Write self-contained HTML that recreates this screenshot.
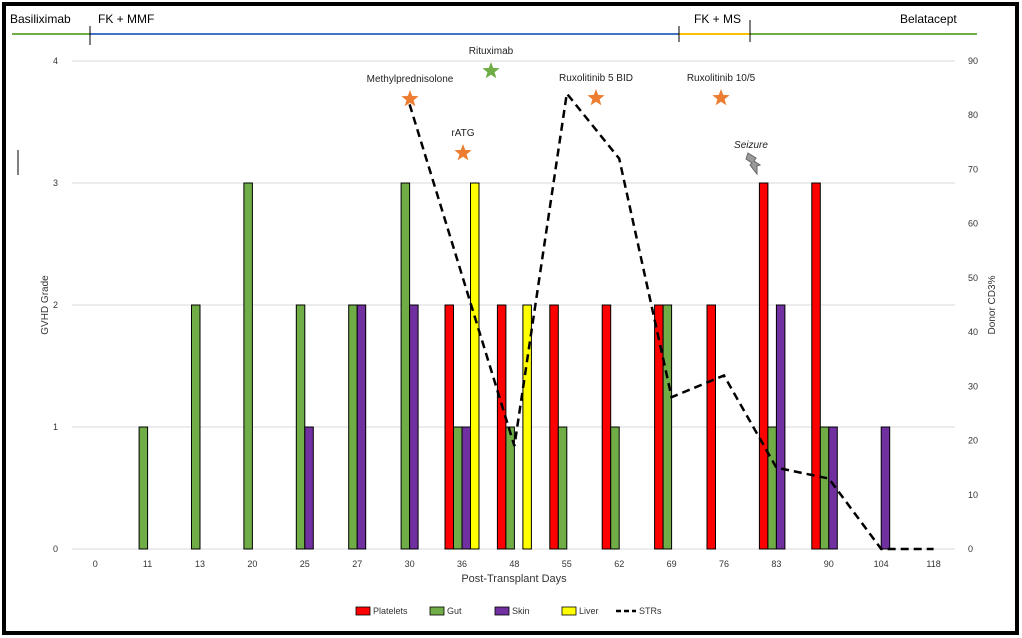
<!DOCTYPE html>
<html><head><meta charset="utf-8"><style>
body{margin:0;background:#fff;font-family:"Liberation Sans",sans-serif}
svg{display:block}
</style></head><body>
<svg id="c" width="1022" height="638" viewBox="0 0 1022 638" font-family="Liberation Sans, sans-serif">
<rect x="4" y="4" width="1013" height="629" fill="#fff" stroke="#000" stroke-width="4"/>
<g>
<line x1="12" y1="34" x2="90" y2="34" stroke="#70ad47" stroke-width="2"/>
<line x1="90" y1="34" x2="679" y2="34" stroke="#4472c4" stroke-width="2"/>
<line x1="679" y1="34" x2="750" y2="34" stroke="#ffc000" stroke-width="2"/>
<line x1="750" y1="34" x2="977" y2="34" stroke="#70ad47" stroke-width="2"/>
<line x1="90" y1="26" x2="90" y2="45" stroke="#000"/>
<line x1="679" y1="26" x2="679" y2="42" stroke="#000"/>
<line x1="750" y1="20" x2="750" y2="42" stroke="#000"/>
<text x="10" y="23" font-size="12">Basiliximab</text>
<text x="98" y="23" font-size="12">FK + MMF</text>
<text x="694" y="23" font-size="12">FK + MS</text>
<text x="900" y="23" font-size="12">Belatacept</text>
</g>
<line x1="18" y1="150" x2="18" y2="175" stroke="#000"/>
<g id="grid"></g><g id="bars"></g><g id="line"></g><g id="ann"></g>
<text transform="translate(48,305) rotate(-90)" text-anchor="middle" font-size="10" fill="#333">GVHD Grade</text>
<text transform="translate(995,305) rotate(-90)" text-anchor="middle" font-size="10" fill="#333">Donor CD3%</text>
<text x="514" y="582" text-anchor="middle" font-size="11" fill="#333">Post-Transplant Days</text>
<g id="legend" font-size="9" fill="#333"></g>
</svg>
<script>
const categories=["0","11","13","20","25","27","30","36","48","55","62","69","76","83","90","104","118"];
const platelets=[0,0,0,0,0,0,0,2,2,2,2,2,2,3,3,0,0];
const gut=[0,1,2,3,2,2,3,1,1,1,1,2,0,1,1,0,0];
const skin=[0,0,0,0,1,2,2,1,0,0,0,0,0,2,1,1,0];
const liver=[0,0,0,0,0,0,0,3,2,0,0,0,0,0,0,0,0];
const strs=[null,null,null,null,null,null,82,null,19,84,72,28,32,15,13,0,0];
const yTicks=[0,1,2,3,4];
const y2Ticks=[0,10,20,30,40,50,60,70,80,90];
const NS="http://www.w3.org/2000/svg";
const X0=69,STEP=52.4,YB=549,YT=61;
const xc=i=>X0+STEP*(i+0.5);
const y=v=>YB-(YB-YT)*v/4;
const y2=v=>YB-(YB-YT)*v/90;
function mk(tag,at,parent){const e=document.createElementNS(NS,tag);for(const k in at)e.setAttribute(k,at[k]);parent.appendChild(e);return e;}
const grid=document.getElementById('grid');
yTicks.forEach(t=>{
 const l=mk('line',{x1:72,x2:955,y1:y(t),y2:y(t),stroke:'#d9d9d9'},grid);
 
 
 const tx=mk('text',{x:58,y:y(t)+3,'text-anchor':'end','font-size':9,fill:'#333'},grid);
 tx.textContent=t;
 
 
});
y2Ticks.forEach(t=>{
 const tx=mk('text',{x:968,y:y2(t)+3,'font-size':9,fill:'#333'},grid);
 tx.textContent=t;
 
 
});
categories.forEach((c,i)=>{
 const tx=mk('text',{x:xc(i),y:567,'text-anchor':'middle','font-size':9,fill:'#333'},grid);
 tx.textContent=c;
 
 
});
const series=[[platelets,'#ff0000','platelets'],[gut,'#70ad47','gut'],[skin,'#7030a0','skin'],[liver,'#ffff00','liver']];
const BW=8.5,bars=document.getElementById('bars');
categories.forEach((c,i)=>{
 series.forEach((s,j)=>{
  const v=s[0][i]; if(!v) return;
  const r=mk('rect',{x:xc(i)-2*BW+j*BW,y:y(v),width:BW,height:y(0)-y(v),fill:s[1],stroke:'#000','stroke-width':1},bars);
  
  
 });
});
let pts=[];strs.forEach((v,i)=>{if(v!==null)pts.push(xc(i)+','+y2(v));});
const pl=mk('polyline',{points:pts.join(' '),fill:'none',stroke:'#000','stroke-width':2.5,'stroke-dasharray':'8,5'},document.getElementById('line'));


const ann=document.getElementById('ann');
function star(cx,cy,col,name,label){
 let p=[];for(let k=0;k<10;k++){const r=k%2?3.8:9,a=-Math.PI/2+k*Math.PI/5;p.push((cx+r*Math.cos(a)).toFixed(1)+','+(cy+r*Math.sin(a)).toFixed(1));}
 const s=mk('polygon',{points:p.join(' '),fill:col},ann);
 
 
 const t=mk('text',{x:cx,y:cy-17,'text-anchor':'middle','font-size':10,fill:'#222'},ann);
 t.textContent=label;
 
 
}
star(410,99,'#ed7d31','methylprednisolone','Methylprednisolone');
star(463,153,'#ed7d31','ratg','rATG');
star(491,71,'#70ad47','rituximab','Rituximab');
star(596,98,'#ed7d31','ruxolitinib-5-bid','Ruxolitinib 5 BID');
star(721,98,'#ed7d31','ruxolitinib-10-5','Ruxolitinib 10/5');
const sz=mk('text',{x:751,y:148,'text-anchor':'middle','font-size':10,'font-style':'italic',fill:'#222'},ann);
sz.textContent='Seizure';


const bolt=mk('polygon',{points:'748,153 756,158 754,161 760,165 757,166 757,174 750,165 752,163 746,159',fill:'#999',stroke:'#666'},ann);


const lg=document.getElementById('legend');
[['Platelets','#ff0000',356],['Gut','#70ad47',430],['Skin','#7030a0',495],['Liver','#ffff00',562]].forEach(e=>{
 const r=mk('rect',{x:e[2],y:607,width:14,height:8,fill:e[1],stroke:'#000','stroke-width':0.8},lg);
 
 
 const t=mk('text',{x:e[2]+17,y:614},lg);
 t.textContent=e[0];
 
 
});
const ll=mk('line',{x1:616,x2:636,y1:611,y2:611,stroke:'#000','stroke-width':2.5,'stroke-dasharray':'5,3'},lg);


const lt=mk('text',{x:639,y:614},lg);
lt.textContent='STRs';


</script>
</body></html>
